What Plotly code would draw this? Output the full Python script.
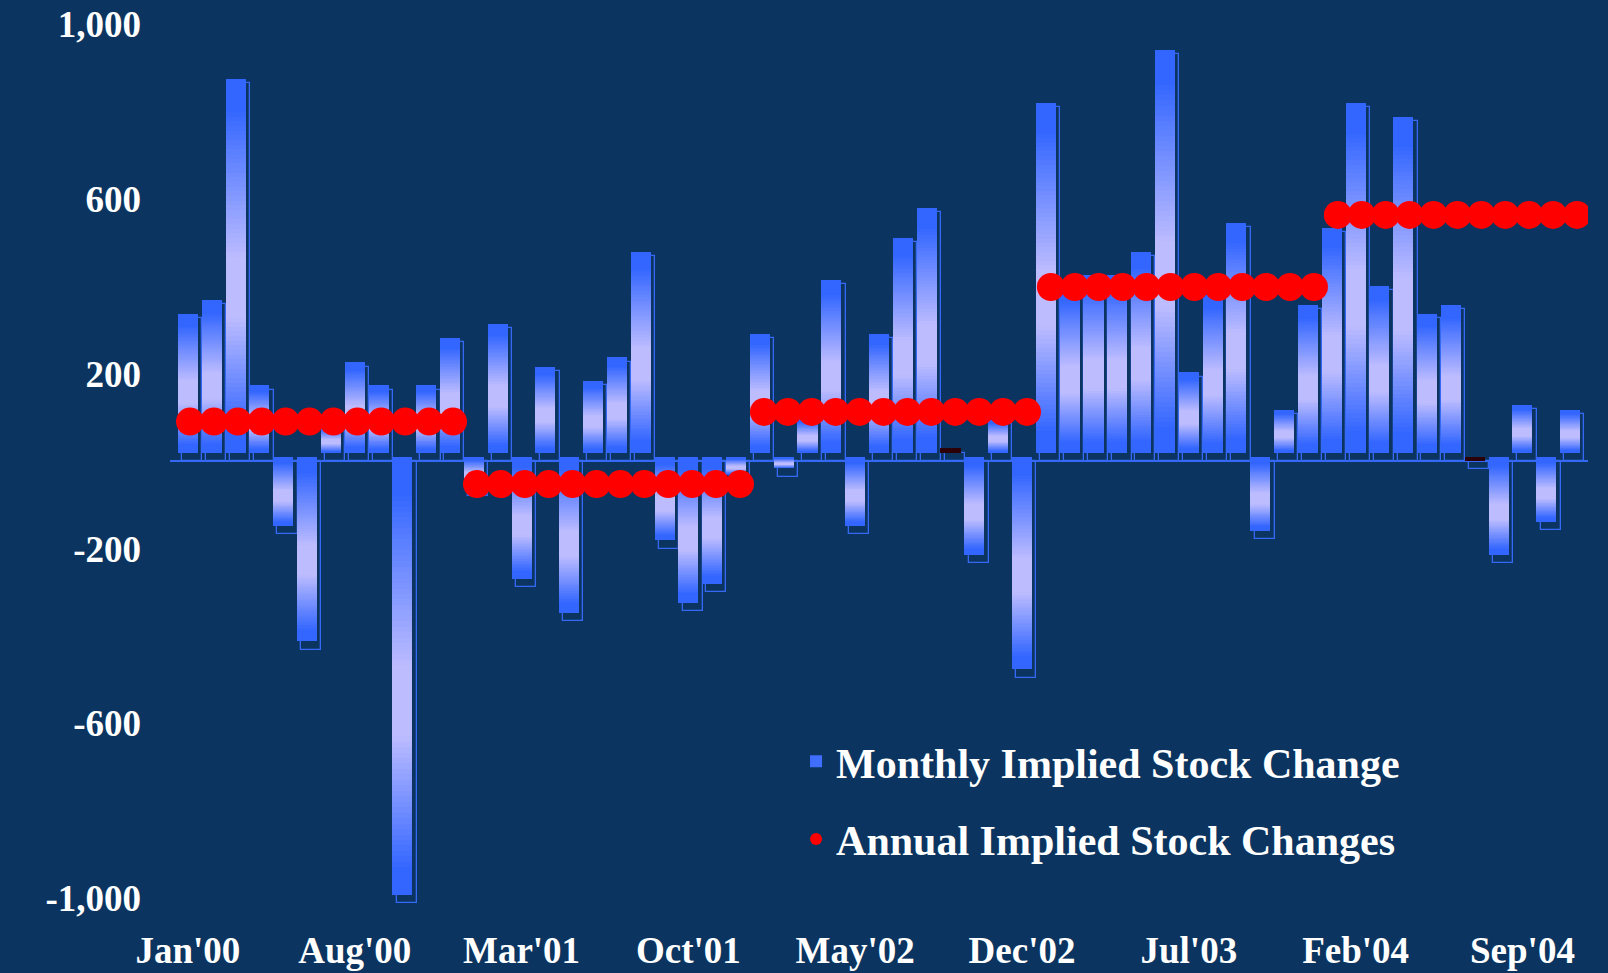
import plotly.graph_objects as go

# ---------------- data ----------------
MONTH_NAMES = ["Jan", "Feb", "Mar", "Apr", "May", "Jun",
               "Jul", "Aug", "Sep", "Oct", "Nov", "Dec"]
YEARS = ["00", "01", "02", "03", "04"]
MONTHS = [f"{m}'{y}" for y in YEARS for m in MONTH_NAMES][:59]   # Jan'00 .. Nov'04

MONTHLY = [
    328, 360, 865, 164, -167, -432, 70, 217, 164, -1012, 164, 273,      # 2000
    -80, 305, -288, 206, -365, 174, 228, 470, -200, -342, -299, -50,    # 2001
    283, -35, 88, 405, -167, 283, 502, 571, 20, -233, 85, -496,         # 2002
    810, 390, 417, 417, 471, 932, 194, 372, 536, -178, 108, 348,        # 2003
    524, 810, 392, 778, 328, 348, -17, -233, 119, -157, 108,            # 2004 (Jan-Nov)
]
ANNUAL = {"00": 91, "01": -52, "02": 113, "03": 399, "04": 564}

TICK_LABELS = ["Jan'00", "Aug'00", "Mar'01", "Oct'01", "May'02",
               "Dec'02", "Jul'03", "Feb'04", "Sep'04"]
Y_TICKS = [-1000, -600, -200, 200, 600, 1000]
Y_TICK_TEXT = ["-1,000", "-600", "-200", "200", "600", "1,000"]

# ---------------- layout constants ----------------
W, H = 1608, 973
BG = "#0B3560"
FONT = "Liberation Serif"
X_RANGE = [-0.75, 58.75]
X2_RANGE = [-0.836, 58.46]      # dot series axis (slightly wider spacing)
Y_RANGE = [-1050, 1040]
M_L, M_R, M_T, M_B = 170, 20, 7, 53
px_per_unit_y = (H - M_T - M_B) / (Y_RANGE[1] - Y_RANGE[0])
px_per_unit_x = (W - M_L - M_R) / (X_RANGE[1] - X_RANGE[0])

BAR_W = 0.84
SHADOW_DX = 4.3 / px_per_unit_x          # outline shifted right
FILL_UP = 4.0 / px_per_unit_y            # fill raised above outline
FILL_TRIM = 8.7 / px_per_unit_y          # fill bottom inset

BLUE = (51, 102, 255)
LAV = (188, 188, 255)
DARK = "#2B0006"
N_SLICES = 80

x = list(range(len(MONTHS)))
annual_y = [ANNUAL[m.split("'")[1]] for m in MONTHS]


def grad(t):
    # t: 0 at bottom of bar, 1 at top; lavender centre slightly below middle
    c0 = 0.43
    if t < c0:
        d = (c0 - t) / c0
    else:
        d = (t - c0) / (1 - c0)
    if d < 0.16:
        f = 0.0
    elif d > 0.86:
        f = 1.0
    else:
        f = (d - 0.16) / 0.70
    c = [round(LAV[i] + (BLUE[i] - LAV[i]) * f) for i in range(3)]
    return f"rgb({c[0]},{c[1]},{c[2]})"


fig = go.Figure()

# outline (shadow) bars
fig.add_trace(go.Bar(
    x=x, y=MONTHLY, base=0, width=BAR_W, offset=-BAR_W / 2 + SHADOW_DX,
    marker=dict(color="rgba(0,0,0,0)", line=dict(color="#3569F5", width=1.3)),
    showlegend=False, hoverinfo="skip",
))

# gradient-filled bars built from stacked slices
lows = [min(0, v) + FILL_TRIM for v in MONTHLY]
highs = [max(0, v) + FILL_UP for v in MONTHLY]
for k in range(N_SLICES):
    t = (k + 0.5) / N_SLICES
    bases = [lo + (hi - lo) * k / N_SLICES for lo, hi in zip(lows, highs)]
    hts = [(hi - lo) / N_SLICES * 1.02 for lo, hi in zip(lows, highs)]
    cols = [DARK if abs(v) < 30 else grad(t) for v in MONTHLY]
    leg = (k == N_SLICES - 10)
    fig.add_trace(go.Bar(
        x=x, y=hts, base=bases, width=BAR_W, offset=-BAR_W / 2,
        marker=dict(color=cols if not leg else [grad(t)] * len(x), line=dict(width=0)),
        name="Monthly Implied Stock Change", legendgroup="m",
        showlegend=leg, hoverinfo="skip",
    ))

# annual dots
fig.add_trace(go.Scatter(
    x=x, y=annual_y, mode="markers", xaxis="x2",
    marker=dict(color="#FF0000", size=28, line=dict(width=0)),
    name="Annual Implied Stock Changes", legendgroup="a",
))

tick_vals = [MONTHS.index(lbl) for lbl in TICK_LABELS]

fig.update_layout(
    width=W, height=H,
    paper_bgcolor=BG, plot_bgcolor=BG,
    margin=dict(l=M_L, r=M_R, t=M_T, b=M_B, pad=0, autoexpand=False),
    barmode="overlay",
    bargap=0,
    font=dict(family=FONT, color="white"),
    xaxis=dict(
        range=X_RANGE, tickvals=tick_vals, ticktext=TICK_LABELS,
        showgrid=False, zeroline=False, showline=False, ticks="",
        tickfont=dict(family=FONT, size=37, color="white", weight="bold"),
        ticklabelstandoff=5, automargin=False,
    ),
    xaxis2=dict(range=X2_RANGE, overlaying="x", visible=False, automargin=False),
    yaxis=dict(
        range=Y_RANGE, tickvals=Y_TICKS, ticktext=Y_TICK_TEXT,
        showgrid=False, zeroline=True, zerolinecolor="#3569F5", zerolinewidth=1.5,
        showline=False, ticks="", automargin=False,
        tickfont=dict(family=FONT, size=37, color="white", weight="bold"),
        ticklabelstandoff=28,
    ),
    legend=dict(
        x=0.4415, y=0.1309, xanchor="left", yanchor="middle",
        bgcolor="rgba(0,0,0,0)", borderwidth=0,
        font=dict(family=FONT, size=42, color="white", weight="bold"),
        tracegroupgap=20, itemsizing="constant",
    ),
)

fig.write_html("out.html")
